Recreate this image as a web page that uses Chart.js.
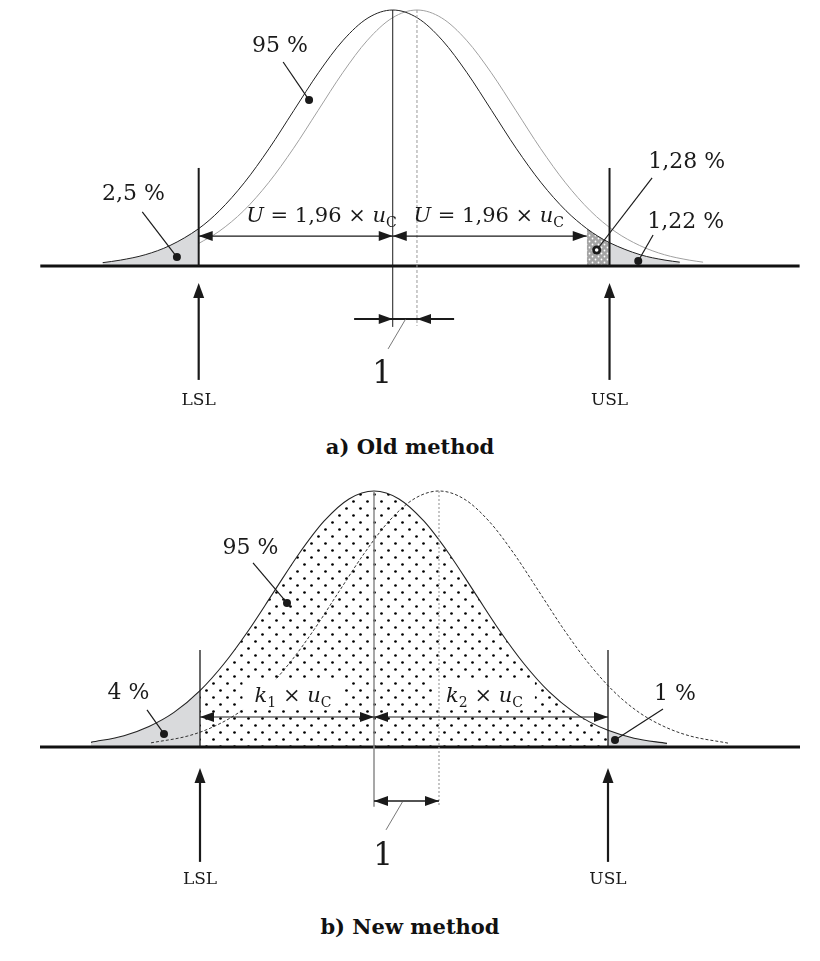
<!DOCTYPE html>
<html>
<head>
<meta charset="utf-8">
<script src="https://cdn.jsdelivr.net/npm/chart.js@4.4.1/dist/chart.umd.min.js"></script>
<style>
body{margin:0;background:#fff;width:820px;height:961px;position:relative;overflow:hidden}
canvas{position:absolute;left:0}
#c1{top:0}
#c2{top:470px}
.ttl{position:absolute;left:0;width:820px;text-align:center;font:bold 21px "DejaVu Serif";color:#111}
</style>
</head>
<body>
<canvas id="c1" width="820" height="420"></canvas>
<div class="ttl" style="top:434px">a) Old method</div>
<canvas id="c2" width="820" height="440"></canvas>
<div class="ttl" style="top:914px">b) New method</div>
<script>
//x: in u_C from the black peak, y: relative to peak height

//a) old method - black curve
var oldMainX = [-2.93,-2.75,-2.5,-2.25,-1.96,-1.75,-1.5,-1.25,-1,-0.75,-0.5,-0.25,0,0.25,0.5,0.75,1,1.25,1.5,1.75,1.96,2.07,2.19,2.5,2.75,2.9]
var oldMainY = [0.013,0.023,0.044,0.080,0.146,0.216,0.325,0.458,0.607,0.755,0.882,0.969,1,0.969,0.882,0.755,0.607,0.458,0.325,0.216,0.146,0.117,0.091,0.044,0.023,0.015]
//a) old method - shifted grey curve
var oldShiftX = [-1.96,-1.755,-1.505,-1.255,-1.005,-0.755,-0.505,-0.255,-0.005,0.245,0.495,0.745,0.995,1.245,1.495,1.745,1.995,2.245,2.495,2.745,2.995,3.135]
var oldShiftY = [0.088,0.135,0.216,0.325,0.458,0.607,0.755,0.882,0.969,1,0.969,0.882,0.755,0.607,0.458,0.325,0.216,0.135,0.080,0.044,0.023,0.015]
var oldLSL = -1.96, oldUSL = 2.19, oldU = 1.96, oldShift = 0.245

//b) new method - black curve
var newMainX = [-2.83,-2.5,-2.25,-2,-1.74,-1.5,-1.25,-1,-0.75,-0.5,-0.25,0,0.25,0.5,0.75,1,1.25,1.5,1.75,2,2.15,2.34,2.6,2.93]
var newMainY = [0.018,0.044,0.080,0.135,0.220,0.325,0.458,0.607,0.755,0.882,0.969,1,0.969,0.882,0.755,0.607,0.458,0.325,0.216,0.135,0.099,0.065,0.034,0.014]
//b) new method - shifted dashed curve
var newShiftX = [-2.23,-1.85,-1.6,-1.35,-1.1,-0.85,-0.6,-0.35,-0.1,0.15,0.4,0.65,0.9,1.15,1.4,1.65,1.9,2.15,2.4,2.65,2.9,3.15,3.54]
var newShiftY = [0.016,0.044,0.080,0.135,0.216,0.325,0.458,0.607,0.755,0.882,0.969,1,0.969,0.882,0.755,0.607,0.458,0.325,0.216,0.135,0.080,0.044,0.015]
var newLSL = -1.74, newUSL = 2.34, newShift = 0.65

//labels
var oldPct = ['95 %', '2,5 %', '1,28 %', '1,22 %']
var newPct = ['95 %', '4 %', '1 %']
var limitNames = ['LSL', 'USL']
var shiftName = '1'
var uText = [['U', 'i'], [' = 1,96 × ', ''], ['u', 'i'], ['C', 's']]
var k1Text = [['k', 'i'], ['1', 's'], [' × ', ''], ['u', 'i'], ['C', 's']]
var k2Text = [['k', 'i'], ['2', 's'], [' × ', ''], ['u', 'i'], ['C', 's']]

var FONT = '"DejaVu Serif", "Liberation Serif", serif'
var INK = '#1a1a1a'


function pts(xs, ys, lo, hi) {
    //pair up readings, optionally keep only a range
    let out = []
    xs.forEach((x, i) => {
        if (lo != null && (x < lo - 1e-9 || x > hi + 1e-9)) return
        out.push({ x: x, y: ys[i] })
    })
    return out
}

function dotPattern(size, bg, fg, r) {
    let cv = document.createElement('canvas')
    cv.width = cv.height = size
    let g = cv.getContext('2d')
    if (bg) {
        g.fillStyle = bg
        g.fillRect(0, 0, size, size)
    }
    g.fillStyle = fg
    let q = [[size / 4, size / 4], [size * 3 / 4, size * 3 / 4]]
    q.forEach(p => {
        g.beginPath()
        g.arc(p[0], p[1], r, 0, Math.PI * 2)
        g.fill()
    })
    return g.createPattern(cv, 'repeat')
}

function pen(chart) {
    //drawing helpers in data units
    let c = chart.ctx
    let sx = chart.scales.x, sy = chart.scales.y
    let X = v => sx.getPixelForValue(v)
    let Y = v => sy.getPixelForValue(v)

    function head(tx, ty, ux, uy, len, half) {
        let bx = tx - ux * len, by = ty - uy * len
        c.beginPath()
        c.moveTo(tx, ty)
        c.lineTo(bx - uy * half, by + ux * half)
        c.lineTo(bx + uy * half, by - ux * half)
        c.closePath()
        c.fillStyle = INK
        c.fill()
    }

    function fontOf(style, size) {
        if (style == 'i') return 'italic ' + size + 'px ' + FONT
        if (style == 's') return Math.round(size * 0.68) + 'px ' + FONT
        return size + 'px ' + FONT
    }

    return {
        line(x1, y1, x2, y2, w, col, dash) {
            c.save()
            c.beginPath()
            c.lineWidth = w
            c.strokeStyle = col || INK
            c.setLineDash(dash || [])
            c.moveTo(X(x1), Y(y1))
            c.lineTo(X(x2), Y(y2))
            c.stroke()
            c.restore()
        },
        head(x, y, ux, uy) {
            head(X(x), Y(y), ux, uy, 14, 5)
        },
        dim(x1, x2, y) {
            //dimension line, heads pointing outward
            this.line(x1, y, x2, y, 1.2)
            head(X(x1), Y(y), -1, 0, 14, 5)
            head(X(x2), Y(y), 1, 0, 14, 5)
        },
        upArrow(x, y0, y1, w) {
            c.save()
            c.beginPath()
            c.lineWidth = w
            c.strokeStyle = INK
            c.moveTo(X(x), Y(y0))
            c.lineTo(X(x), Y(y1) + 10)
            c.stroke()
            c.restore()
            head(X(x), Y(y1), 0, -1, 15, 5.5)
        },
        dot(x, y, hollow) {
            c.beginPath()
            c.arc(X(x), Y(y), hollow ? 4.5 : 4, 0, Math.PI * 2)
            c.fillStyle = INK
            c.fill()
            if (hollow) {
                c.beginPath()
                c.arc(X(x), Y(y), 1.8, 0, Math.PI * 2)
                c.fillStyle = '#fff'
                c.fill()
            }
        },
        text(str, x, y, size) {
            c.font = size + 'px ' + FONT
            c.fillStyle = INK
            c.textAlign = 'center'
            c.textBaseline = 'alphabetic'
            c.fillText(str, X(x), Y(y))
        },
        rich(parts, x, y, size, box) {
            c.textAlign = 'left'
            c.textBaseline = 'alphabetic'
            let w = 0
            parts.forEach(p => {
                c.font = fontOf(p[1], size)
                w += c.measureText(p[0]).width
            })
            let px = X(x) - w / 2, py = Y(y)
            if (box) {
                c.fillStyle = '#fff'
                c.fillRect(px - 12, py - size - 1, w + 24, size + 9)
            }
            c.fillStyle = INK
            parts.forEach(p => {
                c.font = fontOf(p[1], size)
                c.fillText(p[0], px, p[1] == 's' ? py + size * 0.22 : py)
                px += c.measureText(p[0]).width
            })
        },
        pointer(label, tx, ty, lx1, ly1, lx2, ly2, hollow) {
            //label, leader line and dot
            this.text(label, tx, ty, 22)
            this.line(lx1, ly1, lx2, ly2, 1.2)
            this.dot(lx2, ly2, hollow)
        }
    }
}


function drawOld(chart) {
    let p = pen(chart)
    //centre lines
    p.line(0, 1, 0, -0.238, 1)
    p.line(oldShift, 1, oldShift, -0.234, 1, '#9a9a9a', [3, 2])
    //limits
    let lims = [oldLSL, oldUSL]
    lims.forEach((v, i) => {
        p.line(v, 0, v, 0.383, 2)
        p.upArrow(v, -0.445, -0.066, 2.2)
        p.text(limitNames[i], v, -0.543, 17)
    })
    //expanded uncertainty
    p.dim(oldLSL, 0, 0.117)
    p.dim(0, oldU, 0.117)
    p.rich(uText, -0.72, 0.172, 21)
    p.rich(uText, 0.97, 0.172, 21)
    //shift between the means
    p.line(-0.39, -0.207, 0.62, -0.207, 2)
    p.head(0, -0.207, 1, 0)
    p.head(oldShift, -0.207, -1, 0)
    p.line(0.131, -0.207, -0.047, -0.324, 0.8, '#555')
    p.text(shiftName, -0.108, -0.457, 31)
    //percent labels
    p.pointer(oldPct[0], -1.14, 0.836, -1.107, 0.797, -0.845, 0.648)
    p.pointer(oldPct[1], -2.62, 0.258, -2.53, 0.211, -2.18, 0.035)
    p.pointer(oldPct[2], 2.97, 0.383, 2.62, 0.344, 2.06, 0.0625, true)
    p.pointer(oldPct[3], 2.96, 0.148, 2.63, 0.121, 2.48, 0.0195)
}

function drawNew(chart) {
    let p = pen(chart)
    //text boxes clear the dots
    p.rich(k1Text, -0.81, 0.176, 21, true)
    p.rich(k2Text, 1.105, 0.176, 21, true)
    //centre lines
    p.line(0, 1, 0, -0.234, 1.5, '#8a8a8a')
    p.line(newShift, 1, newShift, -0.234, 1.2, '#a0a0a0', [2, 2])
    //limits
    let lims = [newLSL, newUSL]
    lims.forEach((v, i) => {
        p.line(v, 0, v, 0.379, 1.3)
        p.upArrow(v, -0.449, -0.082, 2.2)
        p.text(limitNames[i], v, -0.535, 17)
    })
    p.dim(newLSL, 0, 0.117)
    p.dim(0, newUSL, 0.117)
    //shift between the means
    p.line(0, -0.211, newShift, -0.211, 1.5)
    p.head(0, -0.211, -1, 0)
    p.head(newShift, -0.211, 1, 0)
    p.line(0.29, -0.211, 0.12, -0.324, 0.8, '#555')
    p.text(shiftName, 0.09, -0.461, 31)
    //percent labels
    p.pointer(newPct[0], -1.235, 0.754, -1.21, 0.719, -0.87, 0.5625)
    p.pointer(newPct[1], -2.455, 0.1875, -2.27, 0.1445, -2.10, 0.051)
    p.pointer(newPct[2], 3.01, 0.184, 2.89, 0.148, 2.41, 0.027)
}


function makeChart(id, datasets, xr, yr, draw) {
    return new Chart(document.getElementById(id).getContext('2d'), {
        type: 'line',
        data: { datasets: datasets },
        options: {
            responsive: false,
            animation: false,
            devicePixelRatio: 1,
            events: [],
            layout: { padding: 0 },
            plugins: { legend: { display: false }, tooltip: { enabled: false } },
            elements: {
                point: { radius: 0 },
                line: { cubicInterpolationMode: 'monotone' }
            },
            scales: {
                x: { type: 'linear', min: xr[0], max: xr[1], display: false },
                y: { min: yr[0], max: yr[1], display: false }
            }
        },
        plugins: [{ id: 'notes', afterDatasetsDraw: draw }]
    })
}

function line(data, col, w, dash) {
    return { data: data, borderColor: col, borderWidth: w, borderDash: dash || [], fill: false }
}

function area(data, bg) {
    return { data: data, borderWidth: 0, borderColor: 'rgba(0,0,0,0)', backgroundColor: bg, fill: 'origin' }
}


var tailGrey = '#d9dadc'
var darkDots = dotPattern(6, '#a4a4a4', '#fff', 0.9)
var blackDots = dotPattern(14, null, '#000', 1.35)

var chartOld = makeChart('c1', [
    line([{ x: -3.56, y: 0 }, { x: 4.11, y: 0 }], '#111', 3),
    line(pts(oldMainX, oldMainY), '#222', 1),
    line(pts(oldShiftX, oldShiftY), '#a0a0a0', 1),
    area(pts(oldMainX, oldMainY, -9, oldLSL), tailGrey),
    area(pts(oldMainX, oldMainY, oldU, oldUSL), darkDots),
    area(pts(oldMainX, oldMainY, oldUSL, 9), tailGrey)
], [-3.967, 4.316], [-0.6016, 1.0391], drawOld)

var chartNew = makeChart('c2', [
    line([{ x: -3.34, y: 0 }, { x: 4.26, y: 0 }], '#111', 3),
    line(pts(newMainX, newMainY), '#222', 1.1),
    line(pts(newShiftX, newShiftY), '#333', 1, [3, 2]),
    area(pts(newMainX, newMainY, -9, newLSL), tailGrey),
    area(pts(newMainX, newMainY, newLSL, newUSL), blackDots),
    area(pts(newMainX, newMainY, newUSL, 9), tailGrey)
], [-3.74, 4.46], [-0.637, 1.082], drawNew)
</script>
</body>
</html>
